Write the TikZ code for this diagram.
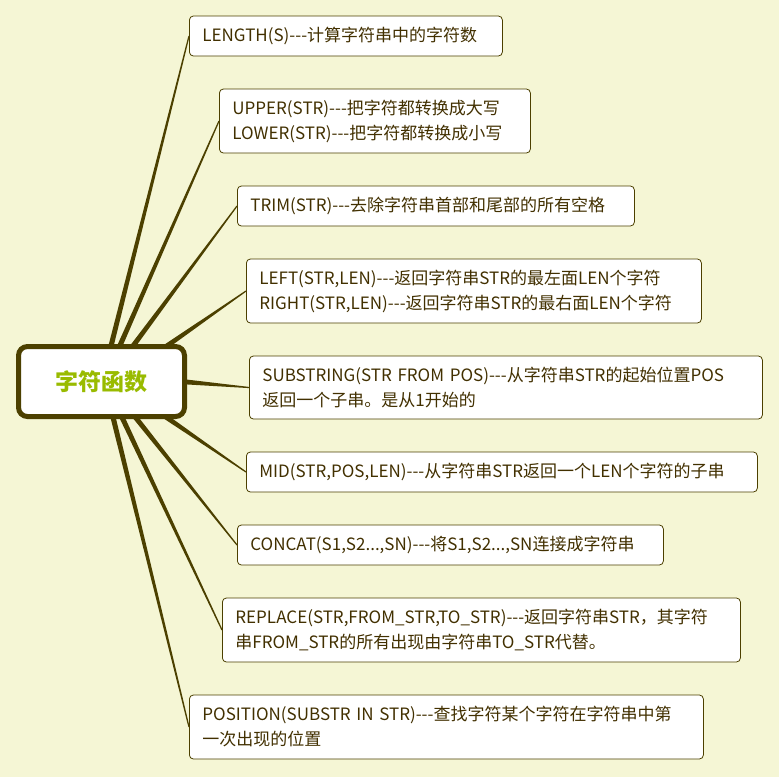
\documentclass[tikz,border=0pt]{standalone}
\usepackage{fontspec}
\newfontfamily\cjk{Noto Sans CJK SC}
\usetikzlibrary{calc, backgrounds}

\definecolor{bgcol}{RGB}{245,246,213}
\definecolor{branchcol}{RGB}{76,64,0}
\definecolor{textcol}{RGB}{66,48,0}
\definecolor{rootgreen}{RGB}{153,187,0}

\tikzset{
    root/.style={draw=branchcol, line width=5pt, fill=white, rounded corners=9pt,
        minimum width=166pt, minimum height=70pt, text=rootgreen,
        font=\cjk\fontsize{23}{28}\selectfont\bfseries},
    leaf/.style={draw=branchcol, line width=0.8pt, fill=white, rounded corners=4pt,
        anchor=west, align=left, inner xsep=13pt, minimum height=#1, text=textcol,
        font=\cjk\fontsize{17}{25}\selectfont},
    leaf/.default=40pt
}

\newcommand{\branch}[2]{%
    \fill[branchcol] ($(#1)!2.6pt!90:(#2)$) -- ($(#2)!0.6pt!-90:(#1)$)
        -- ($(#2)!0.6pt!90:(#1)$) -- ($(#1)!2.6pt!-90:(#2)$) -- cycle;}

\begin{document}
\begin{tikzpicture}[x=1pt, y=-1pt]
        \useasboundingbox (0, 0) rectangle (779, 777);

        \node[root] (root) at (101.5, 381.5) {字符函数};

        \node[leaf, text width=287pt] (len) at (189, 36) {LENGTH(S)---计算字符串中的字符数};
        \node[leaf=64pt, text width=285pt] (upper) at (219, 121) {UPPER(STR)---把字符都转换成大写\\LOWER(STR)---把字符都转换成小写};
        \node[leaf, text width=371pt] (trim) at (237, 206) {TRIM(STR)---去除字符串首部和尾部的所有空格};
        \node[leaf=64pt, text width=429pt] (left) at (246, 291) {LEFT(STR,LEN)---返回字符串STR的最左面LEN个字符\\RIGHT(STR,LEN)---返回字符串STR的最右面LEN个字符};
        \node[leaf=63pt, text width=487pt] (substr) at (249, 387.5) {SUBSTRING(STR FROM POS)---从字符串STR的起始位置POS\\返回一个子串。是从1开始的};
        \node[leaf, text width=485pt] (mid) at (246, 472) {MID(STR,POS,LEN)---从字符串STR返回一个LEN个字符的子串};
        \node[leaf, text width=400pt] (concat) at (237, 545) {CONCAT(S1,S2...,SN)---将S1,S2...,SN连接成字符串};
        \node[leaf=64pt, text width=492pt] (replace) at (222, 630) {REPLACE(STR,FROM\_STR,TO\_STR)---返回字符串STR，其字符\\串FROM\_STR的所有出现由字符串TO\_STR代替。};
        \node[leaf=64pt, text width=488pt] (pos) at (189, 727) {POSITION(SUBSTR IN STR)---查找字符某个字符在字符串中第\\一次出现的位置};

        % start points on the root
        \coordinate (s1) at ([xshift=94pt, yshift=-6pt]root.north west);
        \coordinate (s2) at ([xshift=102pt, yshift=-6pt]root.north west);
        \coordinate (s3) at ([xshift=114pt, yshift=-6pt]root.north west);
        \coordinate (s4) at ([xshift=145pt, yshift=-6pt]root.north west);
        \coordinate (s5) at ([xshift=-6pt]root.east);
        \coordinate (s6) at ([xshift=144pt, yshift=6pt]root.south west);
        \coordinate (s7) at ([xshift=116pt, yshift=6pt]root.south west);
        \coordinate (s8) at ([xshift=104pt, yshift=6pt]root.south west);
        \coordinate (s9) at ([xshift=96pt, yshift=6pt]root.south west);

        \begin{scope}[on background layer]
            \fill[bgcol] (0, 0) rectangle (779, 777);
            \branch{s1}{len.west}
            \branch{s2}{upper.west}
            \branch{s3}{trim.west}
            \branch{s4}{left.west}
            \branch{s5}{substr.west}
            \branch{s6}{mid.west}
            \branch{s7}{concat.west}
            \branch{s8}{replace.west}
            \branch{s9}{pos.west}
        \end{scope}

    \end{tikzpicture}
\end{document}
